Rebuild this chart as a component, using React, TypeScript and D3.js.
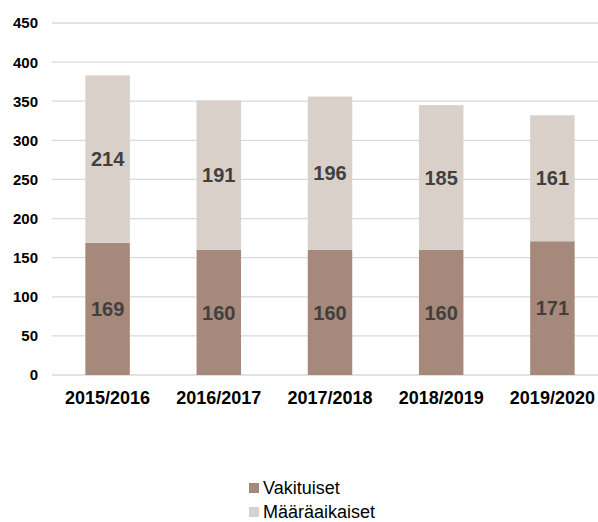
import React from 'react';
import * as d3 from 'd3';

const categories = ['2015/2016', '2016/2017', '2017/2018', '2018/2019', '2019/2020'];
const vakituiset = [169, 160, 160, 160, 171];
const maaraaikaiset = [214, 191, 196, 185, 161];
const seriesNames = ['Vakituiset', 'Määräaikaiset'];
const seriesColors = ['#A6897A', '#DAD0CA'];
const yTicks = [0, 50, 100, 150, 200, 250, 300, 350, 400, 450];

const W = 598;
const H = 522;
const FONT = '"Liberation Sans", Arial, sans-serif';

export default function App() {
  const x = d3.scaleBand<string>().domain(categories).range([52, 608]).paddingInner(0.6).paddingOuter(0.3);
  const y = d3.scaleLinear().domain([0, 450]).range([375, 23]);

  const rows = categories.map((c, i) => ({ cat: c, v: vakituiset[i], m: maaraaikaiset[i] }));
  const stacked = d3.stack<any>().keys(['v', 'm'])(rows);

  return (
    <svg width={W} height={H} style={{ position: 'absolute', left: 0, top: 0, background: '#fff' }} fontFamily={FONT}>
      {yTicks.map(t => (
        <g key={t}>
          <line x1={52} x2={W} y1={y(t)} y2={y(t)} stroke="#D9D9D9" strokeWidth={1.3} />
          <text x={38} y={y(t)} dy="0.36em" textAnchor="end" fontSize={15} fontWeight="bold" fill="#000">{t}</text>
        </g>
      ))}
      {stacked.map((s, si) => (
        <g key={si}>
          {s.map((d, i) => {
            const x0 = x(categories[i])!;
            const yTop = y(d[1]);
            const yBot = y(d[0]);
            return (
              <g key={i}>
                <rect x={x0} width={x.bandwidth()} y={yTop} height={yBot - yTop} fill={seriesColors[si]} />
                <text x={x0 + x.bandwidth() / 2} y={(yTop + yBot) / 2} dy="0.36em" textAnchor="middle"
                  fontSize={20} fontWeight="bold" fill="#404040">{d[1] - d[0]}</text>
              </g>
            );
          })}
        </g>
      ))}
      {categories.map(c => (
        <text key={c} x={x(c)! + x.bandwidth() / 2} y={404} textAnchor="middle" fontSize={18} fontWeight="bold" fill="#000">{c}</text>
      ))}
      {seriesNames.map((n, i) => (
        <g key={n} transform={`translate(249, ${483 + i * 24})`}>
          <rect x={0} y={0} width={10} height={10} fill={seriesColors[i]} />
          <text x={14} y={11} fontSize={18} fill="#000">{n}</text>
        </g>
      ))}
    </svg>
  );
}
